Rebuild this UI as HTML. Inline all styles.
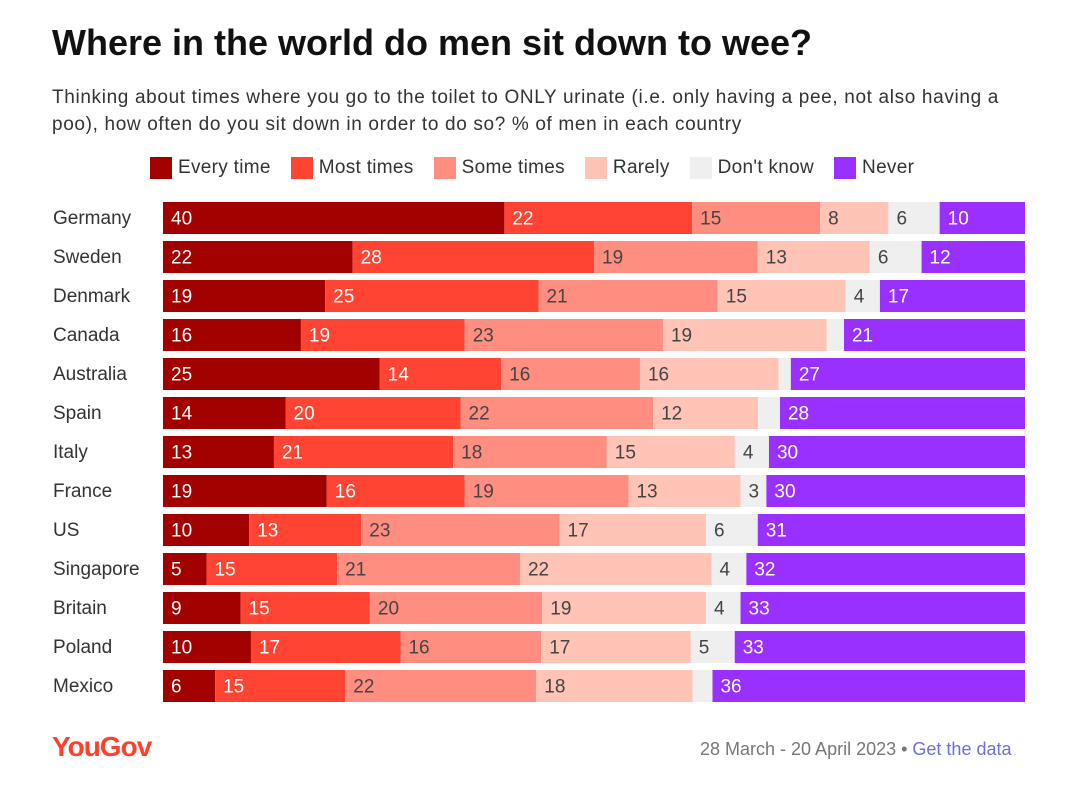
<!DOCTYPE html>
<html><head><meta charset="utf-8"><style>
body{margin:0;width:1080px;height:796px;background:#fff;font-family:"Liberation Sans",sans-serif;overflow:hidden;position:relative}
h1{position:absolute;left:52px;top:22px;margin:0;font-size:36px;font-weight:bold;color:#111;letter-spacing:0px}
.sub{position:absolute;left:52px;top:84px;width:1020px;font-size:19px;line-height:27px;color:#333;letter-spacing:0.65px;white-space:nowrap}
.legend{position:absolute;left:150px;top:157px;display:flex;font-size:19px;color:#333;letter-spacing:0.3px}
.li{display:flex;align-items:center;margin-right:20px}
.sw{width:22px;height:22px;margin-right:6px}
.foot{position:absolute;left:700px;top:739px;font-size:18px;color:#777}
.logo{position:absolute;left:52px;top:731px;font-size:28px;font-weight:bold;color:#ff412c;letter-spacing:-1px}
</style></head><body>
<h1>Where in the world do men sit down to wee?</h1>
<div class="sub">Thinking about times where you go to the toilet to ONLY urinate (i.e. only having a pee, not also having a<br>poo), how often do you sit down in order to do so? % of men in each country</div>
<div class="legend">
<div class="li"><div class="sw" style="background:#a30000"></div>Every time</div>
<div class="li"><div class="sw" style="background:#ff4433"></div>Most times</div>
<div class="li"><div class="sw" style="background:#ff8e80"></div>Some times</div>
<div class="li"><div class="sw" style="background:#ffc4b6"></div>Rarely</div>
<div class="li"><div class="sw" style="background:#efefef"></div>Don't know</div>
<div class="li"><div class="sw" style="background:#9a30ff"></div>Never</div>
</div>
<svg id="chart" width="1080" height="796" style="position:absolute;left:0;top:0"></svg>
<div class="logo">YouGov</div>
<div class="foot">28 March - 20 April 2023 • <span style="color:#7070d0">Get the data</span></div>
<script>
const countries=["Germany","Sweden","Denmark","Canada","Australia","Spain","Italy","France","US","Singapore","Britain","Poland","Mexico"];
const everyTime=[40,22,19,16,25,14,13,19,10,5,9,10,6];
const mostTimes=[22,28,25,19,14,20,21,16,13,15,15,17,15];
const someTimes=[15,19,21,23,16,22,18,19,23,21,20,16,22];
const rarely=[8,13,15,19,16,12,15,13,17,22,19,17,18];
const dontKnow=[6,6,4,2,1.4,2.5,4,3,6,4,4,5,2.3];
const never=[10,12,17,21,27,28,30,30,31,32,33,33,36];
const series=[everyTime,mostTimes,someTimes,rarely,dontKnow,never];
const colors=["#a30000","#ff4433","#ff8e80","#ffc4b6","#efefef","#9a30ff"];
const textColors=["#fff","#fff","#444","#444","#444","#fff"];
const names=["every-time","most-times","some-times","rarely","dont-know","never"];
const svg=document.getElementById('chart');
const NS="http://www.w3.org/2000/svg";
const x0=163,W=862,y0=202,pitch=39,bh=32;
countries.forEach((c,i)=>{
  const y=y0+i*pitch;
  const t=document.createElementNS(NS,'text');
  t.setAttribute('x',53);t.setAttribute('y',y+bh/2+6);
  t.setAttribute('font-size','19');t.setAttribute('fill','#333');
  t.textContent=c;
  
  
  svg.appendChild(t);
  const total=series.reduce((s,a)=>s+a[i],0);
  let acc=0;
  series.forEach((arr,k)=>{
    const v=arr[i];
    const x=x0+acc/total*W, w=v/total*W;
    acc+=v;
    const r=document.createElementNS(NS,'rect');
    r.setAttribute('x',x);r.setAttribute('y',y);r.setAttribute('width',w);r.setAttribute('height',bh);
    r.setAttribute('fill',colors[k]);
    
    
    svg.appendChild(r);
    if(v>=3){
      const l=document.createElementNS(NS,'text');
      l.setAttribute('x',x+8);l.setAttribute('y',y+bh/2+6.5);
      l.setAttribute('font-size','19');l.setAttribute('fill',textColors[k]);
      l.textContent=Math.round(v);
      
      
      svg.appendChild(l);
    }
  });
});
</script>
</body></html>
